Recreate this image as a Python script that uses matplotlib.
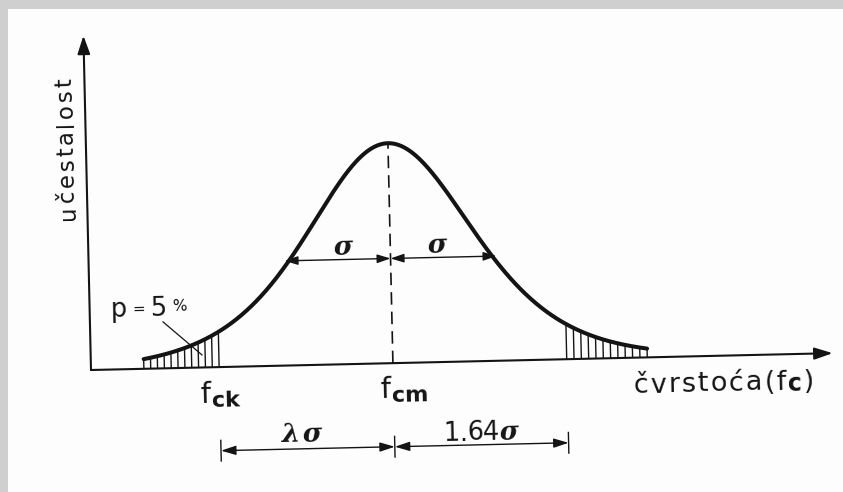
import numpy as np
import matplotlib
matplotlib.use("Agg")
import matplotlib.pyplot as plt
from matplotlib.patches import FancyArrowPatch, Rectangle
from matplotlib.transforms import Affine2D
from matplotlib.font_manager import FontProperties

# bell curve: x in units of sigma around f_cm, y in units of the peak height
f_cm = 0.0
sigma = 1.0
k = 1.64                      # 5 % fractile factor
f_ck = f_cm - k * sigma
peak = 1.0
spread = 1.047                # width of the drawn bell, in sigma
tails = [-2.35, 2.40]         # where the drawn curve stops
n_hatch = 12                  # hatch lines in each tail
sigma_level = 0.476           # height of the two sigma arrows
dim_level = -0.38             # height of the lambda-sigma / 1.64-sigma line
dim_marks = [f_ck, f_cm, f_cm + k * sigma]
sigma_labels = ["σ", "σ"]
dim_labels = ["λσ", "1.64σ"]
y_label = "učestalost"
x_label = "čvrstoća(f"

# scan geometry: pixels per unit, where the mean / axis sit, tilt of the scan
W, H = 843, 492
PX_X, PX_Y = 106.0, 220.0
X0_PX, Y0_PX = 393.0, 370.0
AXIS_X = (91 - X0_PX) / PX_X
AXIS_TOP = 1.52
AXIS_END = 4.15
TILT = 1.3
INK = "#141414"
FONT = "DejaVu Sans"
GREEK = "DejaVu Serif"


def bell(x):
    return peak / np.cosh((x - f_cm) / (spread * sigma)) ** 2


fig = plt.figure(figsize=(W / 100, H / 100), dpi=100)
fig.patch.set_facecolor("#fdfdfd")
# grey edge of the scanned page
fig.patches.append(Rectangle((0, 1 - 9 / H), 1, 9 / H, transform=fig.transFigure,
                             facecolor="#cfcfcf", edgecolor="none", zorder=0))
fig.patches.append(Rectangle((0, 0), 8 / W, 1, transform=fig.transFigure,
                             facecolor="#cfcfcf", edgecolor="none", zorder=0))

ax = fig.add_axes([0, 0, 1, 1])
ax.set_axis_off()
ax.patch.set_alpha(0)
ax.set_xlim(-X0_PX / PX_X, (W - X0_PX) / PX_X)
ax.set_ylim(-(H - Y0_PX) / PX_Y, Y0_PX / PX_Y)

# the whole page is rotated a little, pivot at the axis corner
px, py = ax.transData.transform((AXIS_X, 0.0))
T = ax.transData + Affine2D().rotate_deg_around(px, py, TILT)


def arrow(a, b, style, lw, hl, hw):
    ax.add_patch(FancyArrowPatch(a, b, transform=T, arrowstyle=style + ",head_length=%g,head_width=%g" % (hl, hw),
                                 mutation_scale=1, shrinkA=0, shrinkB=0, lw=lw, color=INK))


# axes
arrow((AXIS_X, 0), (AXIS_X, AXIS_TOP), "-|>", 1.5, 11, 3.8)
arrow((AXIS_X, 0), (AXIS_END, 0), "-|>", 1.5, 11, 3.6)

# curve with closed tails
x = np.linspace(tails[0], tails[1], 500)
ax.plot(x, bell(x), color=INK, lw=2.9, transform=T, solid_capstyle="round")

for lo, hi in [(tails[0], f_ck), (f_cm + k * sigma, tails[1])]:
    xs = np.linspace(lo, hi, n_hatch)
    ax.vlines(xs, 0, bell(xs), color=INK, lw=1.0, transform=T)

# mean line
ax.plot([f_cm, f_cm], [0, peak], color=INK, lw=1.2, dashes=(7.5, 4.2), transform=T)

# sigma arrows
arrow((f_cm - sigma, sigma_level), (f_cm, sigma_level), "<|-|>", 1.0, 8, 2.6)
arrow((f_cm, sigma_level), (f_cm + sigma, sigma_level), "<|-|>", 1.0, 8, 2.6)
for sx, s in zip([-0.445, 0.445], sigma_labels):
    ax.text(sx, sigma_level + 0.022, s, transform=T, rotation=TILT, rotation_mode="anchor",
            ha="center", va="baseline", fontsize=19, family=GREEK, style="italic",
            weight="bold", color=INK)

# dimension line under the axis
arrow((dim_marks[0], dim_level), (dim_marks[1], dim_level), "<|-|>", 1.0, 9, 2.8)
arrow((dim_marks[1], dim_level), (dim_marks[2], dim_level), "<|-|>", 1.0, 9, 2.8)
ax.vlines(dim_marks, dim_level - 0.05, dim_level + 0.05, color=INK, lw=1.0, transform=T)

# leader to the hatched 5 % area
ax.plot([-2.159, -1.799], [0.211, 0.057], color=INK, lw=0.9, transform=T)

rend = fig.canvas.get_renderer()


def spaced(x0, y0, items, length=None, gap=1.0, vertical=False):
    # draw pieces one by one; letter spaced print is spread evenly over `length` pixels
    props = []
    for it in items:
        t, s, w, up = it[:4]
        fam = it[4] if len(it) > 4 else FONT
        st = "italic" if fam == GREEK else "normal"
        props.append(FontProperties(family=fam, size=s, weight=w, style=st))
    widths = [rend.get_text_width_height_descent(it[0], p, ismath=False)[0]
              for it, p in zip(items, props)]
    if length is not None:
        gap = (length - sum(widths)) / max(len(items) - 1, 1)
    pos = 0.0
    for it, p, wd in zip(items, props, widths):
        t, up = it[0], it[3]
        if vertical:
            ax.text(x0 - up / PX_X, y0 + pos / PX_Y, t, fontproperties=p, transform=T,
                    rotation=90 + TILT, rotation_mode="anchor", ha="left", va="baseline", color=INK)
        else:
            ax.text(x0 + pos / PX_X, y0 + up / PX_Y, t, fontproperties=p, transform=T,
                    rotation=TILT, rotation_mode="anchor", ha="left", va="baseline", color=INK)
        pos += wd + gap


spaced(-2.972, 0.684, [(c, 16.5, "normal", 0) for c in y_label], 142, vertical=True)
spaced(2.264, -0.160, [(c, 19.5, "normal", 0) for c in x_label]
       + [("c", 17, "bold", -2), (")", 19.5, "normal", 0)], 181)
spaced(-2.658, 0.239, [("p", 18.5, "normal", 0), ("=", 11, "normal", 3),
                       ("5", 18.5, "normal", 0), ("%", 11, "normal", 5)], 77)
spaced(-1.827, -0.161, [("f", 21, "normal", 0), ("ck", 16, "bold", -4)], gap=1.5)
spaced(-0.128, -0.157, [("f", 21, "normal", 0), ("cm", 16, "bold", -4)], gap=1.5)
spaced(-1.062, -0.347, [("λ", 19, "bold", 0, GREEK), ("σ", 19, "bold", 0, GREEK)], 40)
spaced(0.457, -0.359, [(c, 18.5, "normal", 0) for c in dim_labels[1][:-1]]
       + [("σ", 18.5, "bold", 0, GREEK)], 75)

fig.savefig("out.png", dpi=100, facecolor=fig.get_facecolor())
